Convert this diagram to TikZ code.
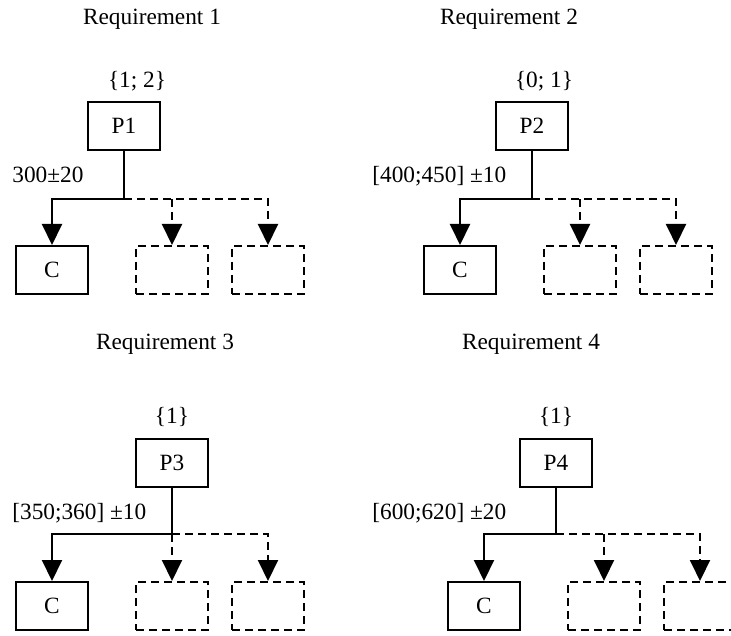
\documentclass[tikz,border=0pt]{standalone}
\usepackage{fontspec}
\setmainfont{Liberation Serif}
\usetikzlibrary{arrows.meta}

\begin{document}
\begin{tikzpicture}[x=0.5pt,y=-0.5pt,font=\fontsize{11.65}{14}\selectfont,
	box/.style={draw,line width=1pt,minimum width=36pt,minimum height=24pt,inner sep=0pt},
	ghost/.style={box,dash pattern=on 4pt off 2.5pt},
	link/.style={line width=1pt,-{Triangle[length=10.5pt,width=10pt]}},
	ghostlink/.style={link,dash pattern=on 4pt off 2.5pt},
	tag/.style={anchor=base west,inner sep=0pt}]
			\useasboundingbox (0,0) rectangle (731,635);
			% requirement 1
			\draw (152,25) node [anchor=base] (t1) {Requirement 1};
			\draw (137,81) node (s1) {\{1; 2\}};
			\draw (124,126) node [box] (p1) {P1};
			\draw (12,183) node [tag] (l1) {300±20};
			\draw (52,270) node [box] (c1) {C};
			\draw (172,270) node [ghost] (e1a) {};
			\draw (268,270) node [ghost] (e1b) {};
			\coordinate (b1) at (124,199);
			\draw[link] (p1.south) -- (b1) -| (c1.north);
			\draw[ghostlink] (b1) -| (e1b.north);
			\draw[ghostlink] (e1a.north |- b1) -- (e1a.north);
			% requirement 2
			\draw (509,25) node [anchor=base] (t2) {Requirement 2};
			\draw (544,81) node (s2) {\{0; 1\}};
			\draw (532,126) node [box] (p2) {P2};
			\draw (372,183) node [tag] (l2) {[400;450] ±10};
			\draw (460,270) node [box] (c2) {C};
			\draw (580,270) node [ghost] (e2a) {};
			\draw (676,270) node [ghost] (e2b) {};
			\coordinate (b2) at (532,199);
			\draw[link] (p2.south) -- (b2) -| (c2.north);
			\draw[ghostlink] (b2) -| (e2b.north);
			\draw[ghostlink] (e2a.north |- b2) -- (e2a.north);
			% requirement 3
			\draw (165,349) node [anchor=base] (t3) {Requirement 3};
			\draw (172,417) node (s3) {\{1\}};
			\draw (172,463) node [box] (p3) {P3};
			\draw (12,519) node [tag] (l3) {[350;360] ±10};
			\draw (52,606) node [box] (c3) {C};
			\draw (172,606) node [ghost] (e3a) {};
			\draw (268,606) node [ghost] (e3b) {};
			\coordinate (b3) at (172,534);
			\draw[link] (p3.south) -- (b3) -| (c3.north);
			\draw[ghostlink] (b3) -| (e3b.north);
			\draw[ghostlink] (e3a.north |- b3) -- (e3a.north);
			% requirement 4
			\draw (531,349) node [anchor=base] (t4) {Requirement 4};
			\draw (556,417) node (s4) {\{1\}};
			\draw (556,463) node [box] (p4) {P4};
			\draw (372,519) node [tag] (l4) {[600;620] ±20};
			\draw (484,606) node [box] (c4) {C};
			\draw (604,606) node [ghost] (e4a) {};
			\draw (700,606) node [ghost] (e4b) {};
			\coordinate (b4) at (556,534);
			\draw[link] (p4.south) -- (b4) -| (c4.north);
			\draw[ghostlink] (b4) -| (e4b.north);
			\draw[ghostlink] (e4a.north |- b4) -- (e4a.north);
		\end{tikzpicture}
\end{document}
